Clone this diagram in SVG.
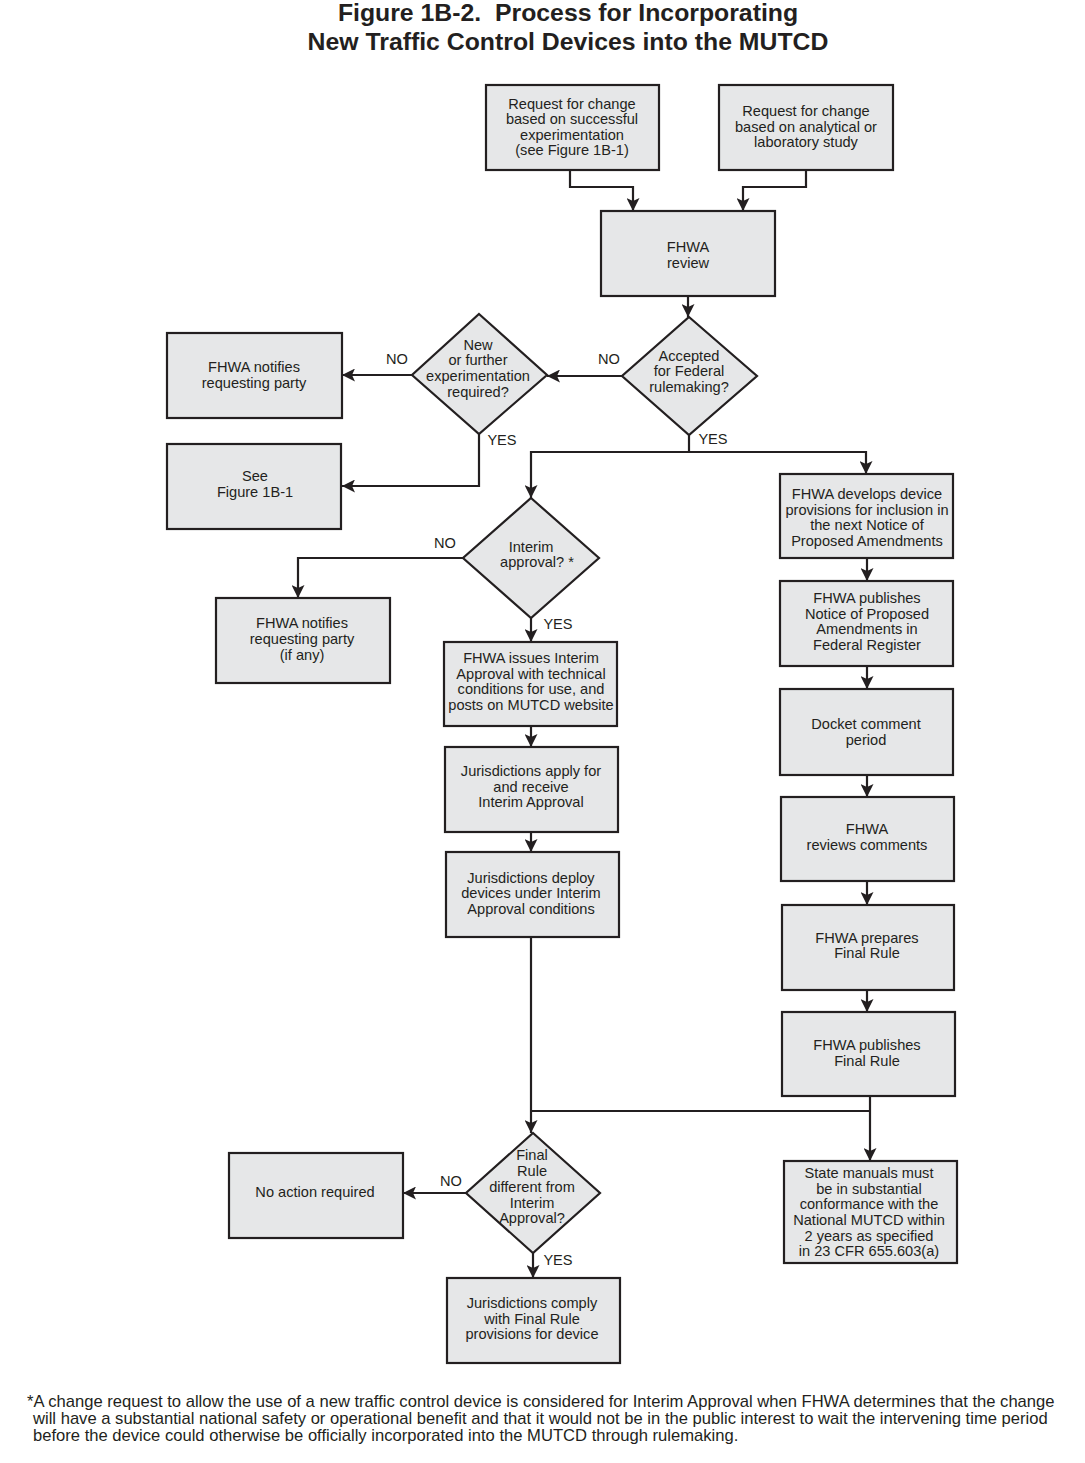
<svg xmlns="http://www.w3.org/2000/svg" width="1085" height="1463" viewBox="0 0 1085 1463">
<defs>
<marker id="ah" markerUnits="userSpaceOnUse" markerWidth="13" markerHeight="13" refX="13" refY="6.5" orient="auto" viewBox="0 0 13 13">
<path d="M0,0 L13,6.5 L0,13 L3,6.5 z" fill="#231f20"/>
</marker>
<style>
.box{fill:#e6e7e8;stroke:#231f20;stroke-width:2.2}
.t{font-family:"Liberation Sans",Arial,Helvetica,sans-serif;font-size:14.6px;fill:#231f20;text-anchor:middle}
.lbl{font-family:"Liberation Sans",Arial,Helvetica,sans-serif;font-size:14.6px;fill:#231f20;text-anchor:middle}
.title{font-family:"Liberation Sans",Arial,Helvetica,sans-serif;font-size:24.8px;font-weight:bold;fill:#231f20;text-anchor:middle}
.fn{font-family:"Liberation Sans",Arial,Helvetica,sans-serif;font-size:16.6px;fill:#231f20}
.c{fill:none;stroke:#231f20;stroke-width:2.2}
.ca{fill:none;stroke:#231f20;stroke-width:2.2;marker-end:url(#ah)}
</style>
</defs>
<rect width="1085" height="1463" fill="#ffffff"/>
<g id="title">
<text class="title" x="568" y="21">Figure 1B-2.&#160; Process for Incorporating</text>
<text class="title" x="568" y="50">New Traffic Control Devices into the MUTCD</text>
</g>

<g id="connectors">
<path class="ca" d="M570,170 V187 H633 V211"/>
<path class="ca" d="M806,170 V187 H743 V211"/>
<path class="ca" d="M688,296 V317"/>
<path class="ca" d="M622,376 H547"/>
<path class="ca" d="M412,375 H342"/>
<path class="ca" d="M479,434 V486 H342"/>
<path class="c" d="M689,435 V452"/>
<path class="ca" d="M689,452 H866 V474"/>
<path class="ca" d="M689,452 H531 V498"/>
<path class="ca" d="M463,558 H298 V598"/>
<path class="ca" d="M531,618 V642"/>
<path class="ca" d="M531,726 V747"/>
<path class="ca" d="M531,832 V852"/>
<path class="ca" d="M531,937 V1133"/>
<path class="ca" d="M867,558 V581"/>
<path class="ca" d="M867,666 V689"/>
<path class="ca" d="M867,775 V797"/>
<path class="ca" d="M867,881 V905"/>
<path class="ca" d="M867,990 V1012"/>
<path class="ca" d="M870,1096 V1161"/>
<path class="c" d="M531,1111 H870"/>
<path class="ca" d="M466,1193 H403"/>
<path class="ca" d="M533,1253 V1278"/>
<text class="lbl" x="609" y="364">NO</text>
<text class="lbl" x="397" y="364">NO</text>
<text class="lbl" x="502" y="445">YES</text>
<text class="lbl" x="713" y="444">YES</text>
<text class="lbl" x="445" y="548">NO</text>
<text class="lbl" x="558" y="629">YES</text>
<text class="lbl" x="451" y="1186">NO</text>
<text class="lbl" x="558" y="1265">YES</text>
</g>

<g id="req-experimentation">
<rect class="box" x="486" y="85" width="173" height="85"/>
<text class="t" x="572" y="109">Request for change</text>
<text class="t" x="572" y="124">based on successful</text>
<text class="t" x="572" y="140">experimentation</text>
<text class="t" x="572" y="155">(see Figure 1B-1)</text>
</g>
<g id="req-analytical">
<rect class="box" x="719" y="85" width="174" height="85"/>
<text class="t" x="806" y="116">Request for change</text>
<text class="t" x="806" y="132">based on analytical or</text>
<text class="t" x="806" y="147">laboratory study</text>
</g>
<g id="fhwa-review">
<rect class="box" x="601" y="211" width="174" height="85"/>
<text class="t" x="688" y="252">FHWA</text>
<text class="t" x="688" y="268">review</text>
</g>
<g id="accepted">
<polygon class="box" points="689,317 757,376 689,435 622,376"/>
<text class="t" x="689" y="361">Accepted</text>
<text class="t" x="689" y="376">for Federal</text>
<text class="t" x="689" y="392">rulemaking?</text>
</g>
<g id="new-experimentation">
<polygon class="box" points="479,314 547,375 479,434 412,375"/>
<text class="t" x="478" y="350">New</text>
<text class="t" x="478" y="365">or further</text>
<text class="t" x="478" y="381">experimentation</text>
<text class="t" x="478" y="397">required?</text>
</g>
<g id="notifies-1">
<rect class="box" x="167" y="333" width="175" height="85"/>
<text class="t" x="254" y="372">FHWA notifies</text>
<text class="t" x="254" y="388">requesting party</text>
</g>
<g id="see-1b1">
<rect class="box" x="167" y="444" width="174" height="85"/>
<text class="t" x="255" y="481">See</text>
<text class="t" x="255" y="497">Figure 1B-1</text>
</g>
<g id="interim-approval">
<polygon class="box" points="531,498 599,558 531,618 463,558"/>
<text class="t" x="531" y="552">Interim</text>
<text class="t" x="537" y="567">approval? *</text>
</g>
<g id="notifies-2">
<rect class="box" x="216" y="598" width="174" height="85"/>
<text class="t" x="302" y="628">FHWA notifies</text>
<text class="t" x="302" y="644">requesting party</text>
<text class="t" x="302" y="660">(if any)</text>
</g>
<g id="issues-interim">
<rect class="box" x="444" y="642" width="173" height="84"/>
<text class="t" x="531" y="663">FHWA issues Interim</text>
<text class="t" x="531" y="679">Approval with technical</text>
<text class="t" x="531" y="694">conditions for use, and</text>
<text class="t" x="531" y="710">posts on MUTCD website</text>
</g>
<g id="apply-interim">
<rect class="box" x="445" y="747" width="173" height="85"/>
<text class="t" x="531" y="776">Jurisdictions apply for</text>
<text class="t" x="531" y="792">and receive</text>
<text class="t" x="531" y="807">Interim Approval</text>
</g>
<g id="deploy">
<rect class="box" x="446" y="852" width="173" height="85"/>
<text class="t" x="531" y="883">Jurisdictions deploy</text>
<text class="t" x="531" y="898">devices under Interim</text>
<text class="t" x="531" y="914">Approval conditions</text>
</g>
<g id="develops">
<rect class="box" x="780" y="474" width="173" height="84"/>
<text class="t" x="867" y="499">FHWA develops device</text>
<text class="t" x="867" y="515">provisions for inclusion in</text>
<text class="t" x="867" y="530">the next Notice of</text>
<text class="t" x="867" y="546">Proposed Amendments</text>
</g>
<g id="publishes-npa">
<rect class="box" x="780" y="581" width="173" height="85"/>
<text class="t" x="867" y="603">FHWA publishes</text>
<text class="t" x="867" y="619">Notice of Proposed</text>
<text class="t" x="867" y="634">Amendments in</text>
<text class="t" x="867" y="650">Federal Register</text>
</g>
<g id="docket">
<rect class="box" x="780" y="689" width="173" height="86"/>
<text class="t" x="866" y="729">Docket comment</text>
<text class="t" x="866" y="745">period</text>
</g>
<g id="reviews-comments">
<rect class="box" x="781" y="797" width="173" height="84"/>
<text class="t" x="867" y="834">FHWA</text>
<text class="t" x="867" y="850">reviews comments</text>
</g>
<g id="prepares">
<rect class="box" x="782" y="905" width="172" height="85"/>
<text class="t" x="867" y="943">FHWA prepares</text>
<text class="t" x="867" y="958">Final Rule</text>
</g>
<g id="publishes-final">
<rect class="box" x="782" y="1012" width="173" height="84"/>
<text class="t" x="867" y="1050">FHWA publishes</text>
<text class="t" x="867" y="1066">Final Rule</text>
</g>
<g id="final-different">
<polygon class="box" points="533,1133 600,1193 533,1253 466,1193"/>
<text class="t" x="532" y="1160">Final</text>
<text class="t" x="532" y="1176">Rule</text>
<text class="t" x="532" y="1192">different from</text>
<text class="t" x="532" y="1208">Interim</text>
<text class="t" x="532" y="1223">Approval?</text>
</g>
<g id="no-action">
<rect class="box" x="229" y="1153" width="174" height="85"/>
<text class="t" x="315" y="1197">No action required</text>
</g>
<g id="comply">
<rect class="box" x="447" y="1278" width="173" height="85"/>
<text class="t" x="532" y="1308">Jurisdictions comply</text>
<text class="t" x="532" y="1324">with Final Rule</text>
<text class="t" x="532" y="1339">provisions for device</text>
</g>
<g id="state-manuals">
<rect class="box" x="784" y="1161" width="173" height="102"/>
<text class="t" x="869" y="1178">State manuals must</text>
<text class="t" x="869" y="1194">be in substantial</text>
<text class="t" x="869" y="1209">conformance with the</text>
<text class="t" x="869" y="1225">National MUTCD within</text>
<text class="t" x="869" y="1241">2 years as specified</text>
<text class="t" x="869" y="1256">in 23 CFR 655.603(a)</text>
</g>
<g id="footnote">
<text class="fn" x="27" y="1407">*A change request to allow the use of a new traffic control device is considered for Interim Approval when FHWA determines that the change</text>
<text class="fn" x="33" y="1424">will have a substantial national safety or operational benefit and that it would not be in the public interest to wait the intervening time period</text>
<text class="fn" x="33" y="1441">before the device could otherwise be officially incorporated into the MUTCD through rulemaking.</text>
</g>
</svg>
